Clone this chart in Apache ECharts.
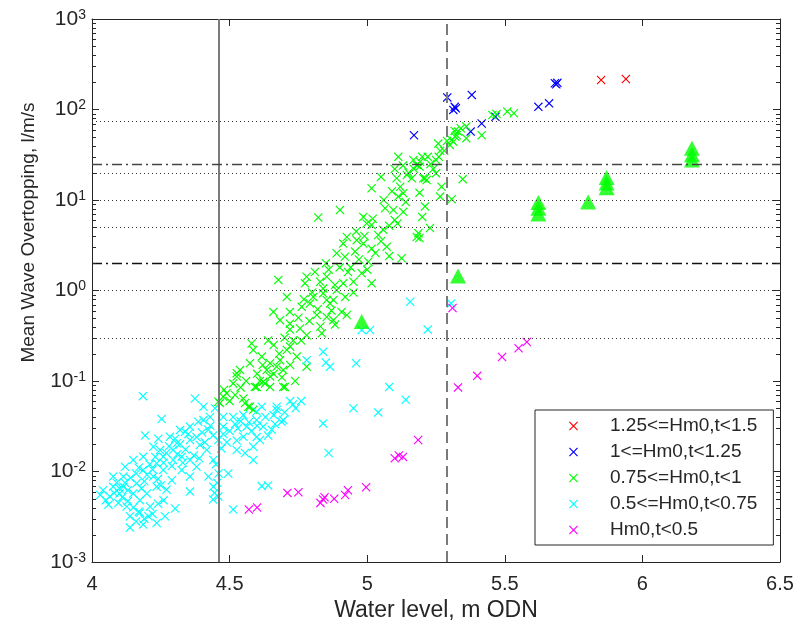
<!DOCTYPE html>
<html>
<head>
<meta charset="utf-8">
<script src="https://cdn.jsdelivr.net/npm/echarts@6/dist/echarts.min.js"></script>
<style>
  html, body { margin: 0; padding: 0; background: #ffffff; }
  #chart { width: 797px; height: 628px; }
</style>
</head>
<body>
<div id="chart"></div>
<script>
// Mean wave overtopping rate against still water level, grouped by Hm0 band.

const seriesNames = ['1.25<=Hm0,t<1.5', '1<=Hm0,t<1.25', '0.75<=Hm0,t<1', '0.5<=Hm0,t<0.75', 'Hm0,t<0.5'];

// [water level m ODN, overtopping l/m/s]
const hm0_125_150 = [[5.85, 212], [5.94, 217]];

const hm0_100_125 = [
  [5.291, 136], [5.318, 107], [5.313, 99], [5.322, 103], [5.38, 145], [5.622, 107], [5.661, 117],
  [5.682, 195], [5.691, 197], [5.687, 190], [5.416, 70], [5.376, 57], [5.17, 52], [5.466, 83]
];

const hm0_075_100 = [
  [5.455, 87], [5.47, 89], [5.509, 95], [5.533, 91], [5.416, 52], [5.36, 65], [5.36, 48], [5.33, 57],
  [5.307, 46], [5.313, 44], [5.32, 50], [5.30, 40.6], [5.258, 42], [5.20, 30], [5.19, 23.4], [5.21, 17.4],
  [5.25, 19.7], [5.25, 27.7], [5.347, 17], [5.265, 10.9], [5.307, 10.2], [5.228, 4.9], [5.19, 3.8],
  [5.318, 58], [5.325, 52], [5.34, 62], [5.265, 35],
  [5.016, 13.5], [4.901, 7.75], [4.822, 6.4], [5.113, 30], [5.107, 17.4], [5.144, 18.9], [5.192, 26.5],
  [5.204, 17.4], [5.113, 10.9], [5.131, 11.9], [5.065, 8.1], [5.095, 7.76], [5.131, 7.4], [4.986, 6.5],
  [4.998, 5.5], [5.016, 5.3], [5.058, 4.7], [5.071, 3.05], [5.18, 3.9], [5.125, 2.27], [5.016, 2.9],
  [4.986, 3.3], [4.962, 3.6], [4.926, 3.9], [4.913, 3.3], [4.889, 2.58], [4.919, 2.36], [4.956, 2.69],
  [5.004, 2.08], [4.98, 1.55], [5.016, 1.2], [4.95, 1.25], [4.913, 1.2], [4.883, 1.15], [4.853, 1.42],
  [4.829, 1.25], [4.78, 1.42], [4.774, 1.2], [4.677, 1.31], [4.708, 0.85], [4.804, 0.85], [4.84, 0.93],
  [4.853, 0.785], [4.889, 1.01], [4.907, 0.58], [4.877, 0.47], [4.883, 0.42], [4.835, 0.336], [4.817, 0.536],
  [4.792, 0.72], [4.762, 0.66], [4.719, 0.58], [4.659, 0.58], [4.683, 0.47], [4.719, 0.43], [4.719, 0.37],
  [4.756, 0.38], [4.731, 0.28], [4.708, 0.22], [4.744, 0.186], [4.683, 0.17], [4.647, 0.157], [4.58, 0.26],
  [4.586, 0.22], [4.617, 0.186], [4.635, 0.132], [4.61, 0.10], [4.592, 0.086], [4.629, 0.094], [4.647, 0.112],
  [4.695, 0.132], [4.701, 0.086], [4.738, 0.10], [4.538, 0.132], [4.526, 0.112], [4.513, 0.094], [4.489, 0.073],
  [4.465, 0.057], [4.55, 0.064], [4.568, 0.052], [4.78, 0.144], [4.853, 0.51], [4.877, 0.785], [4.926, 0.536],
  [4.865, 0.72], [5.186, 4.3], [5.168, 27.7], [5.18, 24.4], [5.216, 16.6], [5.162, 17.4],
  [4.526, 0.122], [4.574, 0.157], [4.622, 0.098], [4.598, 0.086], [4.671, 0.144], [4.695, 0.086],
  [4.477, 0.067], [4.459, 0.059], [4.574, 0.052], [4.556, 0.057], [4.586, 0.048], [4.647, 0.086],
  [4.94, 1.8], [4.97, 2.2], [5.0, 1.7], [4.93, 1.6], [5.03, 2.6], [5.05, 3.5], [5.08, 5.2], [5.1, 6.0],
  [5.04, 4.1], [4.96, 4.5], [4.99, 4.0], [5.02, 6.2], [5.06, 10], [5.09, 12.5], [5.12, 14], [5.15, 20],
  [5.17, 22], [5.14, 9.5], [5.11, 5.5], [5.08, 2.4], [4.9, 1.8], [4.86, 1.7], [4.85, 2.0], [4.8, 0.95],
  [4.77, 0.8], [4.75, 0.5], [4.79, 0.46], [4.82, 0.62], [4.84, 1.05], [4.81, 1.6], [4.92, 0.85], [4.95, 0.95],
  [4.7, 0.3], [4.66, 0.25], [4.68, 0.2], [4.72, 0.24], [4.76, 0.28], [4.78, 0.32], [4.64, 0.28], [4.62, 0.15],
  [4.66, 0.12], [4.69, 0.11], [4.72, 0.15], [4.6, 0.12], [4.56, 0.1], [4.54, 0.085], [4.5, 0.06], [4.48, 0.08],
  [4.52, 0.07], [5.23, 25], [5.22, 30], [5.24, 22], [5.26, 30], [5.28, 35], [5.29, 45], [5.27, 14], [5.19, 12],
  [5.21, 8.5], [5.2, 6.5], [5.1, 22], [5.05, 18], [5.13, 24], [4.83, 0.4], [4.87, 0.6]
];

const hm0_050_075 = [
  [4.374, 0.064], [4.405, 0.052], [4.253, 0.038], [4.193, 0.025], [4.241, 0.023], [4.302, 0.023], [4.338, 0.0275],
  [4.386, 0.0355], [4.423, 0.029], [4.477, 0.026], [4.513, 0.040], [4.55, 0.042], [4.598, 0.046], [4.671, 0.048],
  [4.689, 0.0355], [4.653, 0.029], [4.598, 0.024], [4.526, 0.022], [4.556, 0.016], [4.586, 0.0134], [4.495, 0.0095],
  [4.617, 0.0069], [4.513, 0.0038], [4.459, 0.0053], [4.441, 0.0068], [4.423, 0.0088], [4.441, 0.0134],
  [4.392, 0.0196], [4.356, 0.0223], [4.356, 0.0134], [4.295, 0.0134], [4.326, 0.0104], [4.259, 0.0104],
  [4.29, 0.008], [4.271, 0.0063], [4.356, 0.006], [4.302, 0.0039], [4.265, 0.0032], [4.235, 0.0027],
  [4.186, 0.0026], [4.205, 0.0032], [4.211, 0.0041], [4.138, 0.0032], [4.126, 0.0041], [4.174, 0.0048],
  [4.096, 0.0045], [4.065, 0.0053], [4.077, 0.0068], [4.114, 0.0068], [4.162, 0.0074], [4.15, 0.0057],
  [4.199, 0.0057], [4.12, 0.0113], [4.077, 0.0088], [4.15, 0.0134], [4.186, 0.0146], [4.223, 0.0188],
  [4.247, 0.0173], [4.295, 0.0173], [4.326, 0.0146], [4.186, 0.0104], [4.223, 0.0088], [4.235, 0.0068],
  [4.356, 0.0088], [4.38, 0.0113], [4.417, 0.0173], [4.459, 0.0223], [4.477, 0.0313], [4.477, 0.040],
  [4.52, 0.0334], [4.562, 0.0313], [4.622, 0.0313], [4.665, 0.0334], [4.695, 0.037], [4.598, 0.037],
  [4.55, 0.0242], [4.61, 0.0223], [4.586, 0.0188], [4.526, 0.0173], [4.429, 0.040], [4.447, 0.050],
  [4.405, 0.037], [4.356, 0.0313], [4.32, 0.0288], [4.283, 0.0242], [4.308, 0.0205], [4.259, 0.0146],
  [4.235, 0.0123], [4.114, 0.0088], [4.10, 0.0057], [4.174, 0.0035], [4.138, 0.0024], [4.16, 0.0028],
  [4.03, 0.0055], [4.05, 0.0048], [4.04, 0.0062], [4.06, 0.0043], [4.185, 0.068],
  [4.617, 0.052], [4.671, 0.052], [4.72, 0.06], [4.74, 0.05], [4.70, 0.045], [4.73, 0.055], [4.76, 0.06],
  [4.455, 0.0075], [4.46, 0.0095], [4.45, 0.012], [4.445, 0.0058], [4.44, 0.0049],
  [4.12, 0.0075], [4.13, 0.0062], [4.14, 0.0085], [4.16, 0.0095], [4.17, 0.011], [4.18, 0.0065], [4.19, 0.0078],
  [4.20, 0.0092], [4.21, 0.012], [4.22, 0.0105], [4.23, 0.0145], [4.24, 0.0083], [4.25, 0.0070], [4.26, 0.0125],
  [4.27, 0.0160], [4.28, 0.0190], [4.29, 0.0115], [4.31, 0.0155], [4.32, 0.0200], [4.33, 0.0125], [4.34, 0.0175],
  [4.35, 0.0260], [4.37, 0.0150], [4.38, 0.0240], [4.39, 0.0140], [4.40, 0.0270], [4.41, 0.0210], [4.43, 0.0320],
  [4.44, 0.0250], [4.10, 0.0065], [4.08, 0.0058], [4.09, 0.0075], [4.11, 0.0052], [4.13, 0.0047], [4.15, 0.0040],
  [4.17, 0.0036], [4.19, 0.0030], [4.22, 0.0034], [4.24, 0.0044], [4.26, 0.0048],
  [4.47, 0.018], [4.49, 0.021], [4.50, 0.028], [4.53, 0.030], [4.54, 0.036], [4.57, 0.035], [4.58, 0.028],
  [4.60, 0.032], [4.63, 0.040], [4.64, 0.025], [4.66, 0.042],
  [5.156, 0.75], [4.98, 0.366], [5.01, 0.366], [4.84, 0.21], [4.865, 0.144], [4.85, 0.16], [4.78, 0.17],
  [4.96, 0.157], [5.08, 0.086], [5.14, 0.062], [5.22, 0.37], [5.305, 0.72], [5.04, 0.045], [4.84, 0.034],
  [4.86, 0.016], [4.95, 0.05], [4.64, 0.007]
];

const hm0_000_050 = [
  [4.57, 0.0038], [4.60, 0.0040], [4.71, 0.0058], [4.75, 0.0059], [4.83, 0.0045], [4.84, 0.0049], [4.845, 0.0052],
  [4.88, 0.0050], [4.92, 0.0055], [4.93, 0.0062], [4.996, 0.0067], [5.10, 0.0140], [5.115, 0.0150], [5.13, 0.0145],
  [5.185, 0.0223], [5.33, 0.085], [5.40, 0.114], [5.49, 0.184], [5.55, 0.23], [5.58, 0.27], [5.31, 0.64]
];

// Modelled overtopping for design events (filled triangles)
const designEvents = [
  [4.98, 0.454], [5.33, 1.45], [5.622, 9.4], [5.622, 8.1], [5.622, 7.0], [5.803, 9.5],
  [5.87, 17.7], [5.87, 15.4], [5.87, 13.7], [6.18, 37.3], [6.18, 31.6], [6.18, 27.6]
];

// Reference levels
const waterLevelMarks = [4.46, 5.29];          // solid, dashed
const overtoppingDotted = [75, 20, 10, 5, 1, 0.3];
const overtoppingDashDot = [25, 2];

// Axis settings
const xMin = 4, xMax = 6.5, xStep = 0.5;
const yMin = 1e-3, yMax = 1e3;
const minorMultipliers = [2, 3, 4, 5, 6, 7, 8, 9];
const decadeExponents = [-3, -2, -1, 0, 1, 2];

const FONT = '"Liberation Sans", Arial, Helvetica, sans-serif';
const INK = '#262626';
const CROSS = 'path://M0,0.9L0.9,0L5,4.1L9.1,0L10,0.9L5.9,5L10,9.1L9.1,10L5,5.9L0.9,10L0,9.1L4.1,5Z';

const minorTicks = [];
decadeExponents.forEach(function (e) {
  minorMultipliers.forEach(function (m) { minorTicks.push([xMin, m * Math.pow(10, e)]); });
});

function crossSeries(name, data, color) {
  return {
    name: name, type: 'scatter', data: data, symbol: CROSS, symbolSize: 9,
    itemStyle: { color: color, opacity: 1 }, emphasis: { disabled: true }, z: 3
  };
}

const chart = echarts.init(document.getElementById('chart'), null, { renderer: 'canvas' });

const markData = [];
markData.push({ xAxis: waterLevelMarks[0], lineStyle: { color: '#7a7a7a', width: 2, type: 'solid' } });
markData.push({ xAxis: waterLevelMarks[1], lineStyle: { color: '#7a7a7a', width: 2, type: [11, 6] } });
overtoppingDotted.forEach(function (v) {
  markData.push({ yAxis: v, lineStyle: { color: '#333333', width: 1, type: [1, 3] } });
});
overtoppingDashDot.forEach(function (v, i) {
  markData.push({ yAxis: v, lineStyle: { color: i === 0 ? '#444444' : '#111111', width: 1.3, type: [10, 4, 2, 4] } });
});

const option = {
  animation: false,
  backgroundColor: '#ffffff',
  grid: { left: 92, right: 17, top: 19, bottom: 66, containLabel: false },
  legend: {
    orient: 'vertical', left: 535, top: 410,
    padding: [6, 16, 5, 34], itemGap: 6, itemWidth: 9, itemHeight: 9,
    backgroundColor: '#ffffff', borderColor: INK, borderWidth: 1, borderRadius: 0,
    selectedMode: false,
    textStyle: { fontSize: 19, color: INK, fontFamily: FONT, lineHeight: 20, padding: [0, 0, 0, 27] },
    data: seriesNames
  },
  xAxis: [
    {
      type: 'value', min: xMin, max: xMax, interval: xStep, position: 'bottom',
      name: 'Water level, m ODN', nameLocation: 'middle', nameGap: 37,
      nameTextStyle: { fontSize: 23, color: INK, fontFamily: FONT },
      axisLine: { show: true, onZero: false, lineStyle: { color: INK, width: 1 } },
      axisTick: { show: true, inside: true, length: 7, lineStyle: { color: INK } },
      axisLabel: { show: true, margin: 12, fontSize: 20, color: INK, fontFamily: FONT, showMinLabel: true, showMaxLabel: true },
      splitLine: { show: false }
    },
    {
      type: 'value', min: xMin, max: xMax, interval: xStep, position: 'top',
      axisLine: { show: true, onZero: false, lineStyle: { color: INK, width: 1 } },
      axisTick: { show: true, inside: true, length: 7, lineStyle: { color: INK } },
      axisLabel: { show: false }, splitLine: { show: false }
    }
  ],
  yAxis: [
    {
      type: 'log', logBase: 10, min: yMin, max: yMax, position: 'left',
      name: 'Mean Wave Overtopping, l/m/s', nameLocation: 'middle', nameGap: 54, nameRotate: 90,
      nameTextStyle: { fontSize: 19, color: INK, fontFamily: FONT, padding: [0, 0, 0, 116] },
      axisLine: { show: true, onZero: false, lineStyle: { color: INK, width: 1 } },
      axisTick: { show: true, inside: true, length: 7, lineStyle: { color: INK } },
      axisLabel: {
        show: true, margin: 6, showMinLabel: true, showMaxLabel: true,
        formatter: function (v) { return '{b|10}{e|' + Math.round(Math.log10(v)) + '}'; },
        rich: {
          b: { fontSize: 21, color: INK, fontFamily: FONT, lineHeight: 22 },
          e: { fontSize: 14, color: INK, fontFamily: FONT, verticalAlign: 'top', lineHeight: 12 }
        }
      },
      splitLine: { show: false }
    },
    {
      type: 'log', logBase: 10, min: yMin, max: yMax, position: 'right',
      axisLine: { show: true, onZero: false, lineStyle: { color: INK, width: 1 } },
      axisTick: { show: true, inside: true, length: 7, lineStyle: { color: INK } },
      axisLabel: { show: false }, splitLine: { show: false }
    }
  ],
  series: [
    crossSeries(seriesNames[0], hm0_125_150, '#ff0000'),
    crossSeries(seriesNames[1], hm0_100_125, '#0000ff'),
    crossSeries(seriesNames[2], hm0_075_100, '#00ff00'),
    crossSeries(seriesNames[3], hm0_050_075, '#00ffff'),
    crossSeries(seriesNames[4], hm0_000_050, '#ff00ff'),
    {
      name: 'design', type: 'scatter', data: designEvents, symbol: 'triangle', symbolSize: [16, 15],
      itemStyle: { color: '#00ff00' }, emphasis: { disabled: true }, z: 4
    },
    {
      name: 'levels', type: 'scatter', data: [], z: 5,
      markLine: { silent: true, symbol: 'none', label: { show: false }, animation: false, data: markData }
    },
    {
      name: 'minor', type: 'custom', data: minorTicks, z: 6, silent: true,
      encode: { x: 0, y: 1 },
      renderItem: function (params, api) {
        const l = api.coord([xMin, api.value(1)]);
        const r = api.coord([xMax, api.value(1)]);
        const y = Math.round(l[1]) + 0.5;
        return {
          type: 'group', children: [
            { type: 'line', shape: { x1: l[0], y1: y, x2: l[0] + 4, y2: y }, style: { stroke: INK, lineWidth: 1 } },
            { type: 'line', shape: { x1: r[0], y1: y, x2: r[0] - 4, y2: y }, style: { stroke: INK, lineWidth: 1 } }
          ]
        };
      }
    }
  ]
};

chart.setOption(option);
</script>
</body>
</html>
